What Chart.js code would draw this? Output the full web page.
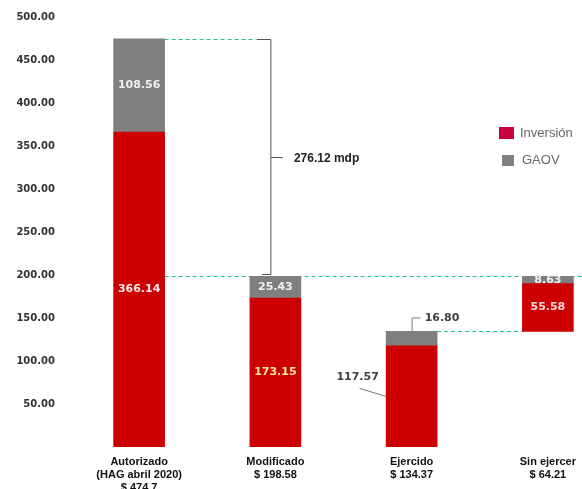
<!DOCTYPE html>
<html>
<head>
<meta charset="utf-8">
<script src="https://cdn.jsdelivr.net/npm/chart.js@4.4.1/dist/chart.umd.min.js"></script>
<style>
  html, body { margin: 0; padding: 0; background: #fff; overflow: hidden; }
  #wrap { width: 640px; height: 489px; }
</style>
</head>
<body>
<div id="wrap"><canvas id="c" width="640" height="489"></canvas></div>
<script>
// ---- data ----
const categories = [
  ['Autorizado', '(HAG abril 2020)', '$ 474.7'],
  ['Modificado', '$ 198.58'],
  ['Ejercido', '$ 134.37'],
  ['Sin ejercer', '$ 64.21']
];
const inversion = [366.14, 173.15, 117.57, 55.58];
const gaov = [108.56, 25.43, 16.80, 8.63];
const inversionBase = [0, 0, 0, 134.37];
const yTickValues = [50, 100, 150, 200, 250, 300, 350, 400, 450, 500];
const seriesNames = ['Inversión', 'GAOV'];
const bracketLabel = '276.12 mdp';

const RED = '#CC0000';
const GRAY = '#7F7F7F';

const invRanges = inversion.map((v, i) => [inversionBase[i], inversionBase[i] + v]);
const gaovRanges = gaov.map((v, i) => [inversionBase[i] + inversion[i], inversionBase[i] + inversion[i] + v]);
const totals = gaovRanges.map(r => r[1]);

const annot = {
  id: 'annot',
  beforeDatasetsDraw(chart) {
    const { ctx, scales: { y } } = chart;
    const m = chart.getDatasetMeta(0).data;
    const half = m[0].width / 2;
    const bx = m[1].x - 5;
    ctx.save();
    ctx.strokeStyle = '#22C39B';
    ctx.lineWidth = 1;
    ctx.setLineDash([4, 3]);
    ctx.beginPath();
    let yy = Math.round(y.getPixelForValue(totals[0])) + 0.5;
    ctx.moveTo(m[0].x + half, yy); ctx.lineTo(bx - 14, yy);
    yy = Math.round(y.getPixelForValue(totals[1])) + 0.5;
    ctx.moveTo(m[0].x + half, yy); ctx.lineTo(chart.width, yy);
    yy = Math.round(y.getPixelForValue(totals[2])) + 0.5;
    ctx.moveTo(m[2].x + half, yy); ctx.lineTo(m[3].x - half, yy);
    ctx.stroke();
    ctx.restore();
  },
  afterDatasetsDraw(chart) {
    const { ctx, scales: { y } } = chart;
    const m = chart.getDatasetMeta(0).data;
    const half = m[0].width / 2;
    ctx.save();
    // in-bar labels
    ctx.font = 'bold 11px "DejaVu Sans"';
    ctx.textAlign = 'center';
    ctx.textBaseline = 'middle';
    const invColors = ['#FBEAEA', '#FFE699', null, '#FFD9D9'];
    const gColors = ['#F2F2F2', '#F2F2F2', null, '#F2F2F2'];
    [0, 1, 3].forEach(i => {
      ctx.fillStyle = invColors[i];
      ctx.fillText(inversion[i].toFixed(2), m[i].x, y.getPixelForValue((invRanges[i][0] + invRanges[i][1]) / 2));
      ctx.fillStyle = gColors[i];
      ctx.fillText(gaov[i].toFixed(2), m[i].x, y.getPixelForValue((gaovRanges[i][0] + gaovRanges[i][1]) / 2));
    });
    // Ejercido outside labels with leaders
    const cx = m[2].x;
    const topY = y.getPixelForValue(totals[2]);
    const midInv = y.getPixelForValue((invRanges[2][0] + invRanges[2][1]) / 2);
    ctx.strokeStyle = '#7a7a7a';
    ctx.lineWidth = 1;
    ctx.beginPath();
    ctx.moveTo(cx + 0.5, topY);
    ctx.lineTo(cx + 0.5, topY - 13.5);
    ctx.lineTo(cx + 9, topY - 13.5);
    ctx.moveTo(cx - 52, midInv - 8);
    ctx.lineTo(cx - half, midInv);
    ctx.stroke();
    ctx.fillStyle = '#404040';
    ctx.textAlign = 'left';
    ctx.fillText(gaov[2].toFixed(2), cx + 13, topY - 13);
    ctx.textAlign = 'center';
    ctx.fillText(inversion[2].toFixed(2), cx - 54, midInv - 19);

    // bracket
    const bx = m[1].x - 5 + 0.5;
    const yt = Math.round(y.getPixelForValue(totals[0])) + 0.5;
    const yb = Math.round(y.getPixelForValue(totals[1])) - 1.5;
    const ym = Math.round((yt + yb) / 2) + 0.5;
    ctx.strokeStyle = '#555';
    ctx.beginPath();
    ctx.moveTo(bx - 14, yt); ctx.lineTo(bx, yt); ctx.lineTo(bx, yb); ctx.lineTo(bx - 9, yb);
    ctx.moveTo(bx, ym); ctx.lineTo(bx + 12, ym);
    ctx.stroke();
    ctx.fillStyle = '#222';
    ctx.font = 'bold 12px "Liberation Sans"';
    ctx.textAlign = 'left';
    ctx.fillText(bracketLabel, bx + 23, ym + 1);

    // legend
    const lx = chart.chartArea.left + 428;
    ctx.fillStyle = '#C8003C';
    ctx.fillRect(lx, 127, 15, 12);
    ctx.fillStyle = '#808080';
    ctx.fillRect(lx + 3, 155, 12, 11);
    ctx.font = '13px "Liberation Sans"';
    ctx.fillStyle = '#666';
    ctx.fillText(seriesNames[0], lx + 21, 133);
    ctx.fillText(seriesNames[1], lx + 23, 160);
    ctx.restore();
  }
};

new Chart(document.getElementById('c'), {
  type: 'bar',
  data: {
    labels: categories,
    datasets: [
      { label: seriesNames[0], data: invRanges, backgroundColor: RED, grouped: false, barThickness: 51 },
      { label: seriesNames[1], data: gaovRanges, backgroundColor: GRAY, grouped: false, barThickness: 51 }
    ]
  },
  options: {
    responsive: false,
    animation: false,
    layout: { padding: { top: 17, right: 24, left: 0, bottom: 0 } },
    plugins: { legend: { display: false }, tooltip: { enabled: false } },
    scales: {
      x: {
        grid: { display: false, drawTicks: false },
        border: { display: false },
        ticks: {
          maxRotation: 0, minRotation: 0, autoSkip: false, padding: 8,
          color: '#111',
          font: { family: '"Liberation Sans"', size: 11, weight: 'bold', lineHeight: 1.2 }
        },
        afterFit(s) { s.height = 42; s.paddingLeft = 0; s.paddingRight = 0; }
      },
      y: {
        min: 0, max: 500,
        grid: { display: false, drawTicks: false },
        border: { display: false },
        afterBuildTicks(s) { s.ticks = [0].concat(yTickValues).map(v => ({ value: v })); },
        ticks: {
          padding: 16,
          color: '#333',
          font: { family: '"DejaVu Sans"', size: 10, weight: 'bold' },
          callback: v => v === 0 ? '' : v.toFixed(2)
        },
        afterFit(s) { s.width = 71; s.paddingTop = 0; s.paddingBottom = 0; }
      }
    }
  },
  plugins: [annot]
});
</script>
</body>
</html>
